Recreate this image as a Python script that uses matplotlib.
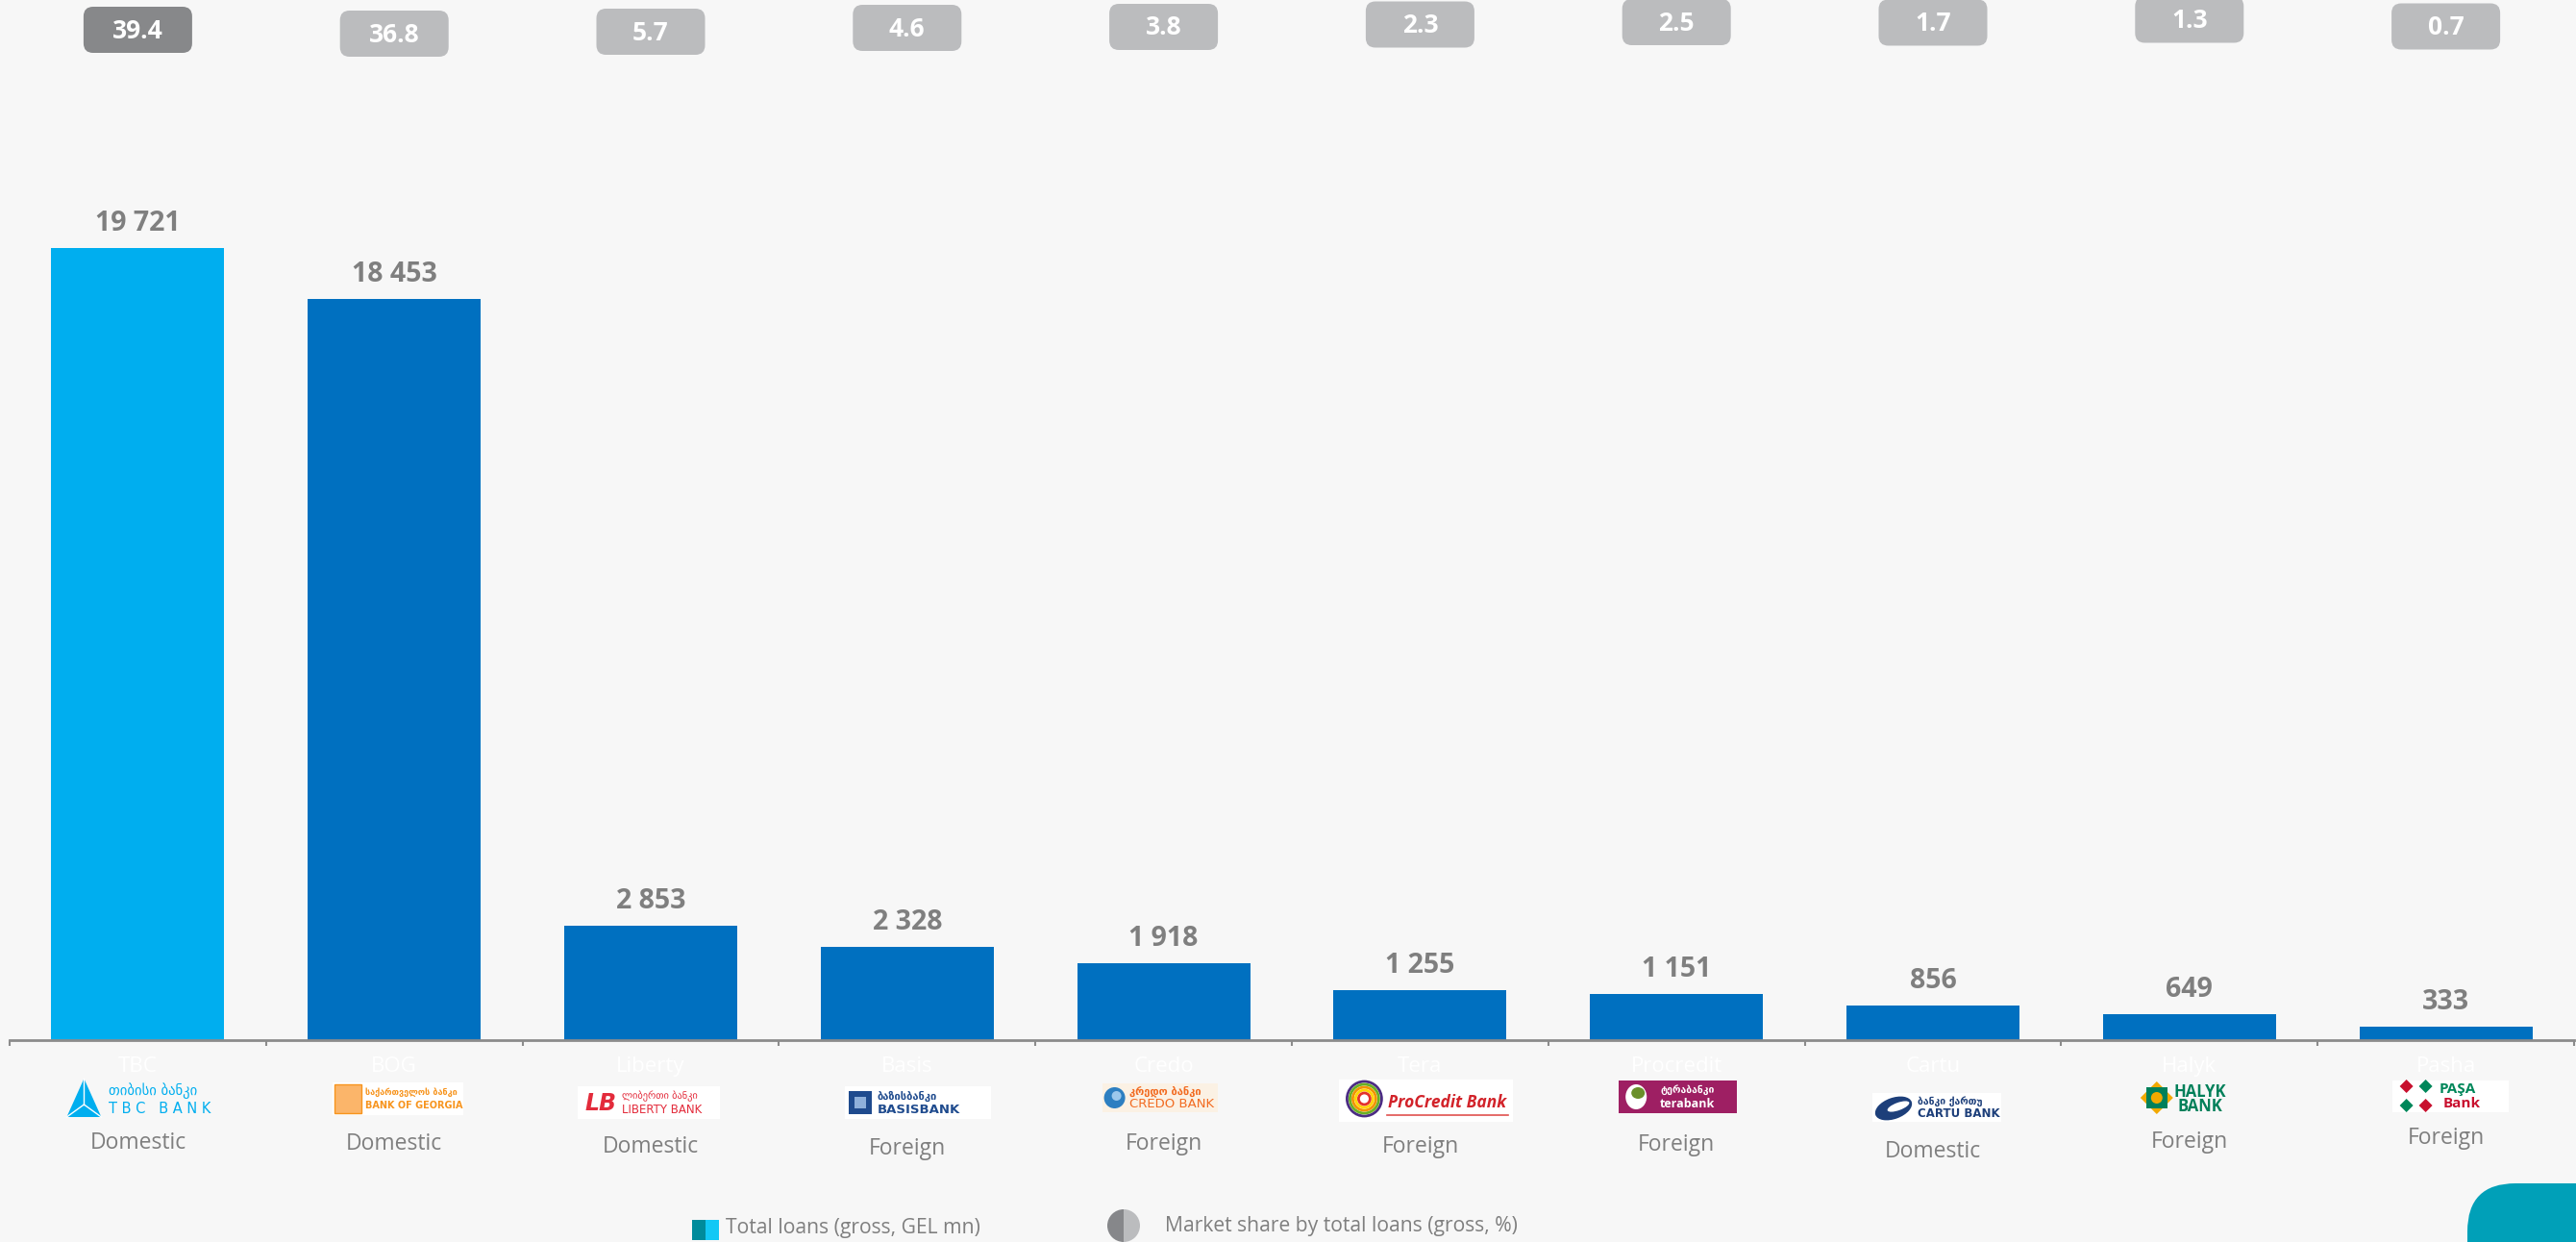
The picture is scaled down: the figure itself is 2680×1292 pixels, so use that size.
import matplotlib
matplotlib.use('Agg')
import matplotlib.pyplot as plt
from matplotlib.patches import FancyBboxPatch, Rectangle, Polygon, Circle, Wedge, Ellipse
import numpy as np

# ---------------- data ----------------
banks = ['TBC', 'BOG', 'Liberty', 'Basis', 'Credo', 'Tera', 'Procredit', 'Cartu', 'Halyk', 'Pasha']
loans = [19721, 18453, 2853, 2328, 1918, 1255, 1151, 856, 649, 333]
share = [39.4, 36.8, 5.7, 4.6, 3.8, 2.3, 2.5, 1.7, 1.3, 0.7]
ownership = ['Domestic', 'Domestic', 'Domestic', 'Foreign', 'Foreign',
             'Foreign', 'Foreign', 'Domestic', 'Foreign', 'Foreign']
logo_keys = ['TBC', 'BOG', 'Liberty', 'Basis', 'Credo', 'ProCredit', 'Tera', 'Cartu', 'Halyk', 'Pasha']
legend_labels = ['Total loans (gross, GEL mn)', 'Market share by total loans (gross, %)']

# ---------------- style ----------------
BG = '#F7F7F7'
GREY = '#7F7F7F'
plt.rcParams['font.family'] = ['Open Sans', 'DejaVu Sans']
GEO = ['DejaVu Sans']

box_y = [31, 35, 33, 29, 28, 25.5, 23, 23.5, 20.5, 27.5]
own_y = [1189, 1190, 1193, 1195, 1190, 1193, 1191, 1198, 1188, 1184]
logo_y = [1143, 1143, 1147, 1147, 1142, 1145, 1141, 1152, 1142, 1140]
logo_dx = [2, 4, -2, 11, -4, 6, 1, 4, 0, 5]

fig = plt.figure(figsize=(26.8, 12.92), dpi=100, facecolor=BG)
ax = fig.add_axes([10 / 2680, 210 / 1292, 2668 / 2680, 1082 / 1292])
ax.set_facecolor(BG)
x = np.arange(len(banks))
bar_colors = ['#00AEEF'] + ['#0070C0'] * (len(banks) - 1)
ax.bar(x, loans, width=0.675, color=bar_colors, zorder=2)
ax.set_xlim(-0.5, len(banks) - 0.5)
ax.set_ylim(0, 25896)
for s in ['left', 'right', 'top']:
    ax.spines[s].set_visible(False)
ax.spines['bottom'].set_color('#8C8C8C')
ax.spines['bottom'].set_linewidth(2)
ax.spines['bottom'].set_zorder(3)
ax.set_yticks([])
ax.set_xticks(x)
ax.set_xticklabels(banks, color='white', fontsize=16)
ax.tick_params(axis='x', which='major', length=0, pad=12)
ax.set_xticks(np.arange(-0.5, len(banks), 1), minor=True)
ax.tick_params(axis='x', which='minor', length=4.5, width=1.5, color='#8C8C8C', direction='out')

for i, v in enumerate(loans):
    ax.annotate(f'{v:,}'.replace(',', ' '), (i, v), xytext=(0, 18), textcoords='offset pixels',
                ha='center', va='baseline', fontsize=20.5, fontweight='bold', color=GREY)

# ---------------- overlay in pixel coords ----------------
ov = fig.add_axes([0, 0, 1, 1], zorder=5)
ov.set_xlim(0, 2680)
ov.set_ylim(1292, 0)
ov.axis('off')
ov.patch.set_alpha(0)

disp = ax.transData.transform(np.column_stack([x, np.zeros(len(x))]))
cxs = ov.transData.inverted().transform(disp)[:, 0]

# market share boxes
for i, (cx, s) in enumerate(zip(cxs, share)):
    col = '#87888A' if i == 0 else '#BBBCBE'
    ov.add_patch(FancyBboxPatch((cx - 56.5, box_y[i] - 24), 113, 48,
                                boxstyle='round,pad=0,rounding_size=10', fc=col, ec='none'))
    ov.text(cx, box_y[i] + 1, f'{s:.1f}', ha='center', va='center', fontsize=19,
            fontweight='bold', color='white')

# ownership labels
for i, (cx, o) in enumerate(zip(cxs, ownership)):
    ov.text(cx, own_y[i], o, ha='center', va='center', fontsize=16.5, color=GREY)


def t(xp, yp, s, size, color, weight='normal', ha='left', style='normal', fam=None):
    ov.text(xp, yp, s, fontsize=size, color=color, fontweight=weight, ha=ha, va='center',
            fontstyle=style, family=fam if fam else plt.rcParams['font.family'], clip_on=False)


def white(cx, cy, w, h, fc='white'):
    ov.add_patch(Rectangle((cx - w / 2, cy - h / 2), w, h, fc=fc, ec='none'))


def logo(key, cx, cy):
    if key == 'TBC':
        c = '#00AEEF'
        ov.add_patch(Polygon([(cx - 76, cy + 19), (cx - 58, cy - 21), (cx - 40, cy + 19)], fc=c, ec='none'))
        for vx, vy in [(cx - 76, cy + 19), (cx - 58, cy - 21), (cx - 40, cy + 19)]:
            ov.plot([cx - 58, vx], [cy + 6, vy], color='white', lw=1)
        t(cx - 32, cy - 8, 'თიბისი ბანკი', 10.5, c, fam=GEO)
        t(cx - 32, cy + 11, 'T B C   B A N K', 10.5, c, fam=['DejaVu Sans'])
    elif key == 'BOG':
        c = '#F7941D'
        white(cx, cy, 136, 34)
        ov.add_patch(Rectangle((cx - 66, cy - 15), 28, 30, fc='#FBB56A', ec='#F7941D', lw=1))
        t(cx - 34, cy - 7, 'საქართველოს ბანკი', 6.5, c, 'bold', fam=GEO)
        t(cx - 34, cy + 7, 'BANK OF GEORGIA', 7, c, 'bold', fam=['DejaVu Sans'])
    elif key == 'Liberty':
        c = '#E32B3B'
        white(cx, cy, 148, 34)
        t(cx - 50, cy + 1, 'LB', 17, c, 'bold', ha='center', style='italic', fam=['DejaVu Sans'])
        t(cx - 28, cy - 7, 'ლიბერთი ბანკი', 7.5, c, fam=GEO)
        t(cx - 28, cy + 8, 'LIBERTY BANK', 8.5, c, fam=['DejaVu Sans'])
    elif key == 'Basis':
        c = '#1F4B8E'
        white(cx, cy, 152, 34)
        ov.add_patch(Rectangle((cx - 72, cy - 12), 24, 24, fc=c, ec='none'))
        ov.add_patch(Rectangle((cx - 66, cy - 6), 12, 12, fc='#8FB0DA', ec='none'))
        t(cx - 42, cy - 7, 'ბაზისბანკი', 8, c, 'bold', fam=GEO)
        t(cx - 42, cy + 7, 'BASISBANK', 9.5, c, 'bold', fam=['DejaVu Sans'])
    elif key == 'Credo':
        c = '#F26B21'
        white(cx, cy, 120, 30, fc='#FBF1E4')
        ov.add_patch(Circle((cx - 47, cy), 11, fc='#2D7FC1', ec='none'))
        ov.add_patch(Circle((cx - 45, cy - 2), 5, fc='#9CC8EC', ec='none'))
        t(cx - 32, cy - 7, 'კრედო ბანკი', 8, c, 'bold', fam=GEO)
        t(cx - 32, cy + 7, 'CREDO BANK', 9.5, c, fam=['DejaVu Sans'])
    elif key == 'ProCredit':
        white(cx, cy, 181, 44)
        for r, col in zip([18, 15, 12, 9, 6], ['#4B2C83', '#6AB023', '#F39200', '#FFD500', '#E4322B']):
            ov.add_patch(Circle((cx - 64, cy - 2), r, fc='none', ec=col, lw=2))
        t(cx + 22, cy + 2, 'ProCredit Bank', 12.5, '#D2232A', 'bold', ha='center', style='italic')
        ov.plot([cx - 40, cx + 86], [cy + 15, cy + 15], color='#E0524F', lw=1.2)
    elif key == 'Tera':
        white(cx, cy, 123, 34, fc='#9E1F63')
        ov.add_patch(Ellipse((cx - 43, cy), 22, 26, fc='white', ec='none'))
        ov.add_patch(Ellipse((cx - 41, cy - 4), 14, 12, fc='#6A8F2A', ec='none'))
        t(cx + 10, cy - 7, 'ტერაბანკი', 7.5, 'white', 'bold', ha='center', fam=GEO)
        t(cx + 10, cy + 7, 'terabank', 9, 'white', 'bold', ha='center')
    elif key == 'Cartu':
        c = '#1D3F7A'
        white(cx, cy, 134, 30)
        ov.add_patch(Ellipse((cx - 45, cy + 1), 40, 22, angle=-20, fc=c, ec='none'))
        ov.add_patch(Ellipse((cx - 40, cy - 1), 24, 8, angle=-20, fc='white', ec='none'))
        t(cx - 20, cy - 6, 'ბანკი ქართუ', 7.5, c, 'bold', fam=GEO)
        t(cx - 20, cy + 7, 'CARTU BANK', 8.5, c, 'bold', fam=['DejaVu Sans'])
    elif key == 'Halyk':
        c = '#00805A'
        ix = cx - 34
        ov.add_patch(Polygon([(ix, cy - 17), (ix + 17, cy), (ix, cy + 17), (ix - 17, cy)], fc='#F2A900', ec='none'))
        ov.add_patch(Rectangle((ix - 11, cy - 11), 22, 22, fc=c, ec='none'))
        ov.add_patch(Circle((ix, cy), 6, fc='#F2A900', ec='none'))
        t(cx - 16, cy - 6, 'HALYK', 12, c, 'bold')
        t(cx - 12, cy + 9, 'BANK', 12, c, 'bold')
    elif key == 'Pasha':
        white(cx, cy, 121, 33)
        ix = cx - 36
        for dx, dy, col in [(-10, -10, '#C8102E'), (10, -10, '#00875A'), (-10, 10, '#00875A'), (10, 10, '#C8102E')]:
            ov.add_patch(Polygon([(ix + dx - 7, cy + dy), (ix + dx, cy + dy - 7),
                                  (ix + dx + 7, cy + dy), (ix + dx, cy + dy + 7)], fc=col, ec='none'))
        t(cx - 12, cy - 7, 'PAŞA', 11, '#00875A', 'bold')
        t(cx - 8, cy + 8, 'Bank', 11, '#C8102E', 'bold')


for i, (cx, k) in enumerate(zip(cxs, logo_keys)):
    logo(k, cx + logo_dx[i], logo_y[i])

# ---------------- legend ----------------
ov.add_patch(Rectangle((720, 1269), 14, 21, fc='#008B9B', ec='none'))
ov.add_patch(Rectangle((734, 1269), 14, 21, fc='#12C8F5', ec='none'))
ov.text(755, 1278, legend_labels[0], ha='left', va='center', fontsize=15.2, color=GREY)
ov.add_patch(Wedge((1169, 1275), 17, 90, 270, fc='#86878A', ec='none'))
ov.add_patch(Wedge((1169, 1275), 17, 270, 90, fc='#BBBCBE', ec='none'))
ov.text(1212, 1276, legend_labels[1], ha='left', va='center', fontsize=15.2, color=GREY)

# decorative corner shape
ov.add_patch(FancyBboxPatch((2567, 1231), 300, 200, boxstyle='round,pad=0,rounding_size=50',
                            fc='#00A0B8', ec='none'))

fig.savefig('out.png', dpi=100, facecolor=BG)
